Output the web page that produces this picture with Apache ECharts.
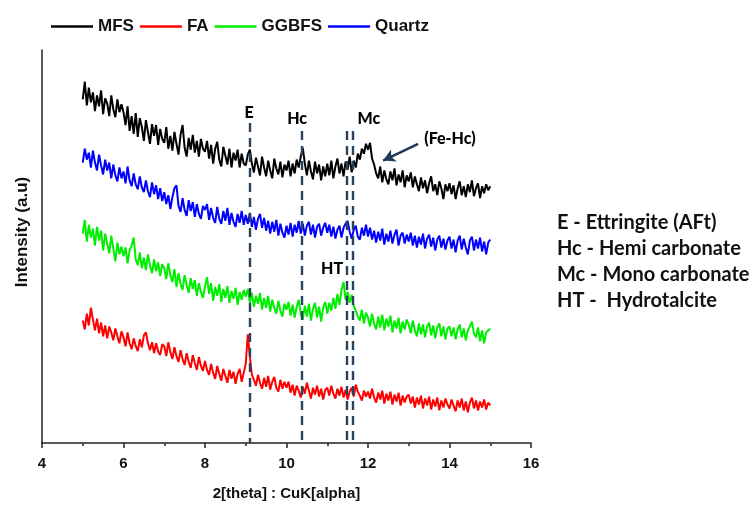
<!DOCTYPE html>
<html>
<head>
<meta charset="utf-8">
<script src="https://cdn.jsdelivr.net/npm/echarts@6/dist/echarts.min.js"></script>
<style>html,body{margin:0;padding:0;background:#fff;}#c{width:754px;height:506px;}</style>
</head>
<body>
<div id="c"></div>
<script>
// 2theta sampling: 5.00 to 15.00 in steps of 0.05 (201 points)
const thetaStart = 5.0;
const thetaStep = 0.05;

const seriesNames = ['MFS', 'FA', 'GGBFS', 'Quartz'];

const mfs = [
 348,366,342,360,345,355,336,352,341,357,333,349,344,331,352,338,330,348,335,343,
 335,322,341,316,331,313,334,310,329,320,306,327,315,303,323,311,322,302,318,308,
 304,320,298,311,296,315,303,292,312,322,299,290,309,297,312,294,306,290,308,298,
 295,306,288,302,283,298,305,287,280,300,291,282,298,279,294,286,297,279,293,283,
 281,292,297,283,274,289,280,271,290,279,270,286,276,268,288,278,272,285,269,282,
 276,286,270,283,273,287,279,290,299,283,271,286,275,267,285,273,282,266,280,270,
 283,271,286,268,280,288,273,283,270,285,277,290,274,286,279,293,287,298,293,303,
 297,304,288,282,273,268,280,264,276,267,262,275,266,278,261,272,264,276,259,271,
 265,274,259,270,262,255,269,258,266,253,263,270,255,262,251,265,258,247,262,255,
 263,252,261,247,258,265,251,260,249,262,254,266,250,258,263,248,260,253,262,256,
 260
];
const fa = [
 124,115,131,119,137,125,114,126,111,122,108,119,106,118,112,104,116,108,101,113,
 107,98,112,101,95,106,98,93,105,97,109,112,101,94,102,91,101,93,89,100,
 98,88,102,92,85,97,88,82,94,85,79,91,82,76,89,81,74,87,78,73,
 83,74,69,80,71,65,78,70,63,75,68,61,74,65,72,60,70,75,62,71,
 80,110,88,69,64,58,69,61,55,66,57,68,54,62,67,56,52,64,55,62,
 56,62,51,59,48,58,53,46,57,50,61,53,45,56,49,58,47,55,44,54,
 56,48,58,50,45,55,48,57,46,54,44,52,56,47,59,52,48,43,53,47,
 52,45,55,46,41,51,44,53,40,50,43,52,39,49,42,51,38,48,41,47,
 49,40,47,36,46,39,48,35,45,38,47,34,44,37,46,33,43,36,45,39,
 35,44,38,32,43,36,45,33,42,31,41,46,35,43,33,42,36,44,34,41,
 38
];
const ggbfs = [
 212,226,204,221,208,217,200,219,205,215,195,212,202,192,210,197,184,203,191,199,
 189,198,182,195,200,208,186,180,193,177,188,175,191,180,172,186,174,183,169,181,
 177,166,182,170,163,176,158,172,161,155,170,160,152,167,156,165,149,162,153,147,
 159,168,151,162,144,158,149,161,143,156,147,159,142,154,146,157,140,153,145,155,
 148,156,142,152,138,149,141,152,135,147,137,149,133,145,137,131,144,134,128,141,
 135,143,129,140,127,138,145,131,125,139,128,141,124,136,142,127,138,123,137,143,
 131,142,134,147,136,151,140,155,163,145,153,142,150,139,134,128,124,135,121,132,
 127,118,131,121,115,128,117,130,114,126,118,129,112,124,116,127,111,123,115,125,
 120,111,124,114,108,121,110,120,107,118,122,109,119,106,117,121,108,118,105,116,
 118,108,117,105,115,120,107,116,104,114,118,123,111,107,117,103,114,101,112,114,
 116
];
const quartz = [
 284,298,287,294,279,296,284,276,292,281,272,287,276,284,268,282,271,265,279,268,
 275,263,280,266,260,273,262,257,270,259,254,266,255,249,264,252,261,247,258,245,
 254,242,251,237,249,258,261,240,234,248,236,230,246,235,244,229,242,232,227,240,
 236,242,226,238,228,223,239,227,222,235,225,238,221,233,224,219,232,223,235,221,
 231,222,233,219,229,216,227,232,218,228,215,225,212,224,214,226,210,222,213,208,
 220,211,223,209,221,213,225,212,222,210,220,224,211,221,208,219,222,210,218,223,
 213,221,209,219,207,216,220,208,218,222,225,214,207,216,220,209,206,218,210,221,
 209,218,206,215,203,214,205,217,201,212,204,215,202,211,216,200,210,213,202,211,
 204,213,200,210,198,209,201,212,197,207,211,199,208,195,206,210,198,207,196,205,
 209,197,206,193,205,210,196,207,198,191,205,209,195,206,197,208,194,204,191,203,
 206
];

// axes
const xMin = 4, xMax = 16, xInterval = 2;
const yMin = 0, yMax = 398;

// reference peak positions (dashed lines): [2theta, top of dashed line]
const peakLines = [[9.10, 324], [10.38, 316], [11.47, 316], [11.63, 316]];
// peak labels: [2theta, intensity, text]
const peakLabels = [[9.08, 334, 'E'], [10.26, 328, 'Hc'], [12.02, 328, 'Mc'], [11.12, 176, 'HT'], [14.01, 308, '(Fe-Hc)']];
// arrow from label to peak
const arrowLine = [[13.23, 303], [12.37, 286]];

const keyLines = ['E - Ettringite (AFt)', 'Hc - Hemi carbonate', 'Mc - Mono carbonate', 'HT -  Hydrotalcite'];

function toPairs(arr) {
  return arr.map((v, i) => [+(thetaStart + i * thetaStep).toFixed(2), v]);
}

const colors = ['#000000', '#ff0000', '#00ee00', '#0000ff'];
const dataSets = [mfs, fa, ggbfs, quartz];

const series = seriesNames.map((name, k) => ({
  name: name,
  type: 'line',
  data: toPairs(dataSets[k]),
  showSymbol: false,
  symbol: 'none',
  lineStyle: { width: 2, color: colors[k] },
  itemStyle: { color: colors[k] },
  z: 3
}));

series.push({
  name: 'marks',
  type: 'line',
  data: [],
  silent: true,
  z: 4,
  markLine: {
    silent: true,
    symbol: ['none', 'none'],
    label: { show: false },
    lineStyle: { color: '#27435f', type: [9, 6], width: 2.4 },
    data: peakLines.map(p => [{ coord: [p[0], p[1]] }, { coord: [p[0], yMin] }])
  }
});
series.push({
  name: 'arrow',
  type: 'line',
  data: [],
  silent: true,
  z: 4,
  markLine: {
    silent: true,
    symbol: ['none', 'arrow'],
    symbolSize: [10, 12],
    label: { show: false },
    lineStyle: { color: '#1f3a5a', type: 'solid', width: 2.6 },
    data: [[{ coord: arrowLine[0] }, { coord: arrowLine[1] }]]
  }
});
series.push({
  name: 'labels',
  type: 'scatter',
  data: peakLabels.map(p => [p[0], p[1], p[2]]),
  symbolSize: 0,
  silent: true,
  z: 5,
  itemStyle: { opacity: 1, color: '#000' },
  label: {
    show: true,
    position: 'inside',
    formatter: p => p.data[2],
    color: '#000',
    fontFamily: 'Lato',
    fontWeight: 900,
    fontSize: 16
  }
});

const chart = echarts.init(document.getElementById('c'), null, { renderer: 'canvas' });
chart.setOption({
  animation: false,
  backgroundColor: '#fff',
  grid: { left: 42, right: 223, top: 50, bottom: 58 },
  legend: {
    data: seriesNames,
    left: 46,
    top: 13,
    icon: 'rect',
    itemWidth: 42,
    itemHeight: 2.5,
    itemGap: 6,
    textStyle: { fontFamily: 'Liberation Sans', fontWeight: 'bold', fontSize: 17, color: '#111' }
  },
  xAxis: {
    type: 'value',
    min: xMin, max: xMax, interval: xInterval,
    name: '2[theta] : CuK[alpha]',
    nameLocation: 'middle',
    nameGap: 43,
    nameTextStyle: { fontFamily: 'Liberation Sans', fontWeight: 'bold', fontSize: 15, color: '#111' },
    axisLine: { lineStyle: { color: '#222', width: 1.5 } },
    axisTick: { show: true, length: 5, lineStyle: { color: '#222', width: 1.5 } },
    minorTick: { show: true, splitNumber: 2, length: 3, lineStyle: { color: '#222', width: 1.5 } },
    axisLabel: { fontFamily: 'Liberation Sans', fontWeight: 'bold', fontSize: 15, color: '#111', margin: 13 },
    splitLine: { show: false }
  },
  yAxis: {
    type: 'value',
    min: yMin, max: yMax,
    axisLine: { show: true, lineStyle: { color: '#222', width: 1.5 } },
    axisTick: { show: false },
    axisLabel: { show: false },
    splitLine: { show: false }
  },
  graphic: [
    {
      type: 'text',
      x: 22, y: 232,
      rotation: Math.PI / 2,
      style: {
        text: 'Intensity (a.u)',
        font: 'bold 17px "Liberation Sans"',
        fill: '#111',
        textAlign: 'center',
        textVerticalAlign: 'middle'
      }
    }
  ].concat(keyLines.map((t, i) => ({
    type: 'text',
    x: 557,
    y: 223 + i * 26,
    style: { text: t, font: 'bold 20px Lato', fill: '#111', textVerticalAlign: 'middle' }
  }))),
  series: series
});
</script>
</body>
</html>
